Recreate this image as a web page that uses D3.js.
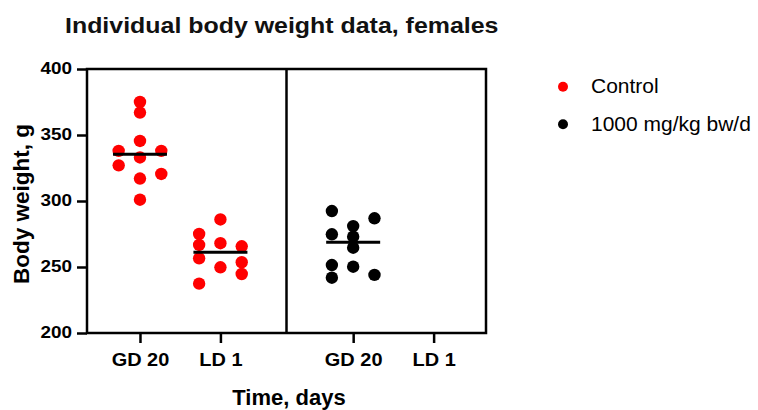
<!DOCTYPE html>
<html>
<head>
<meta charset="utf-8">
<script src="https://cdn.jsdelivr.net/npm/d3@7"></script>
<style>
  html, body { margin: 0; padding: 0; background: #fff; }
  svg { display: block; font-family: "Liberation Sans", Arial, Helvetica, sans-serif; }
</style>
</head>
<body>
<svg id="chart" width="758" height="410"></svg>
<script>
// ---- data ----
const groups = ["Control", "1000 mg/kg bw/d"];
const timepoints = ["GD 20", "LD 1"];
const groupColors = ["#ff0000", "#000000"];
const yTicks = [200, 250, 300, 350, 400];

// individual body weights (g)
const controlGD20 = [375, 367, 345.5, 338, 338, 333, 327, 320.5, 317, 301];
const controlGD20Col = [0, 0, 0, -1, 1, 0, -1, 1, 0, 0];
const controlLD1 = [286, 275, 266.7, 268, 265.7, 256.6, 253.6, 249.8, 244.7, 237.4];
const controlLD1Col = [0, -1, -1, 0, 1, -1, 1, 0, 1, -1];
const highGD20 = [292.4, 286.9, 281, 274.8, 273, 264.6, 251.5, 250.2, 241.9, 244];
const highGD20Col = [-1, 1, 0, -1, 0, 0, -1, 0, -1, 1];
const highLD1 = [];
const highLD1Col = [];

const series = [
  { group: 0, time: "GD 20", values: controlGD20, cols: controlGD20Col },
  { group: 0, time: "LD 1", values: controlLD1, cols: controlLD1Col },
  { group: 1, time: "GD 20", values: highGD20, cols: highGD20Col },
  { group: 1, time: "LD 1", values: highLD1, cols: highLD1Col }
];

// ---- layout ----
const svg = d3.select("#chart");
const plot = { left: 87, right: 486, top: 69, bottom: 333 };
const font = '"Liberation Sans", Arial, Helvetica, sans-serif';

const y = d3.scaleLinear().domain([200, 400]).range([plot.bottom, plot.top]);
const panel = d3.scaleBand().domain(d3.range(groups.length)).range([plot.left, plot.right]).padding(0);
const panelAlign = [0.445, 0.56];
const inner = groups.map((g, i) =>
  d3.scalePoint().domain(timepoints).range([0, panel.bandwidth()]).padding(0.74).align(panelAlign[i]));
const xPos = (gi, t) => panel(gi) + inner[gi](t);
const jitter = 21.3;
const dotR = 6.2;

// title
svg.append("text")
  .attr("transform", "translate(65,33) scale(1.16,1)")
  .attr("font-size", 21.5).attr("font-weight", "bold").attr("fill", "#111")
  .text("Individual body weight data, females");

// y axis
const ySx = 1.16;
const yAxis = d3.axisLeft(y).tickValues(yTicks).tickSize(10).tickSizeOuter(0).tickPadding(5);
const gy = svg.append("g").attr("transform", `translate(${plot.left},0)`).call(yAxis);
gy.select(".domain").remove();
gy.selectAll(".tick line").attr("stroke", "#000").attr("stroke-width", 2.5);
gy.selectAll(".tick text").attr("font-family", font).attr("font-size", 16.3)
  .attr("font-weight", "bold").attr("fill", "#000")
  .attr("x", -15 / ySx).attr("dy", "0.29em")
  .attr("transform", `scale(${ySx},1)`);

// x axes per panel
const xSx = 1.05;
groups.forEach((g, i) => {
  const ax = d3.axisBottom(inner[i]).tickSize(10).tickSizeOuter(0);
  const gx = svg.append("g").attr("transform", `translate(${panel(i)},${plot.bottom})`).call(ax);
  gx.select(".domain").remove();
  gx.selectAll(".tick line").attr("stroke", "#000").attr("stroke-width", 2.5);
  gx.selectAll(".tick text").attr("font-family", font).attr("font-size", 19)
    .attr("font-weight", "bold").attr("fill", "#000")
    .attr("y", 33).attr("dy", 0)
    .attr("transform", `scale(${xSx},1)`);
});

// frame and divider
svg.append("rect")
  .attr("x", plot.left).attr("y", plot.top)
  .attr("width", plot.right - plot.left).attr("height", plot.bottom - plot.top)
  .attr("fill", "none").attr("stroke", "#000").attr("stroke-width", 2.5);
svg.append("line")
  .attr("x1", panel(1)).attr("x2", panel(1))
  .attr("y1", plot.top).attr("y2", plot.bottom)
  .attr("stroke", "#000").attr("stroke-width", 2.5);

// points
series.forEach(s => {
  const cx = xPos(s.group, s.time);
  svg.append("g").selectAll("circle")
    .data(s.values.map((v, i) => ({ v, c: s.cols[i] })))
    .join("circle")
    .attr("cx", d => cx + d.c * jitter)
    .attr("cy", d => y(d.v))
    .attr("r", dotR)
    .attr("fill", groupColors[s.group]);
  if (s.values.length) {
    const med = d3.median(s.values);
    svg.append("line")
      .attr("x1", cx - 27).attr("x2", cx + 27)
      .attr("y1", y(med)).attr("y2", y(med))
      .attr("stroke", "#000").attr("stroke-width", 3);
  }
});

// axis titles
svg.append("text")
  .attr("transform", `translate(28.5,204) rotate(-90)`)
  .attr("text-anchor", "middle")
  .attr("font-size", 22.5).attr("font-weight", "bold").attr("fill", "#000")
  .text("Body weight, g");
svg.append("text")
  .attr("x", 289).attr("y", 404.5)
  .attr("text-anchor", "middle")
  .attr("font-size", 22).attr("font-weight", "bold").attr("fill", "#000")
  .text("Time, days");

// legend
const legend = svg.append("g");
groups.forEach((g, i) => {
  const ly = 86.7 + i * 37.6;
  legend.append("circle").attr("cx", 563).attr("cy", ly).attr("r", 5).attr("fill", groupColors[i]);
  legend.append("text")
    .attr("transform", `translate(591,${ly + 6.5}) scale(1.05,1)`)
    .attr("font-size", 20).attr("fill", "#000").text(g);
});
</script>
</body>
</html>
